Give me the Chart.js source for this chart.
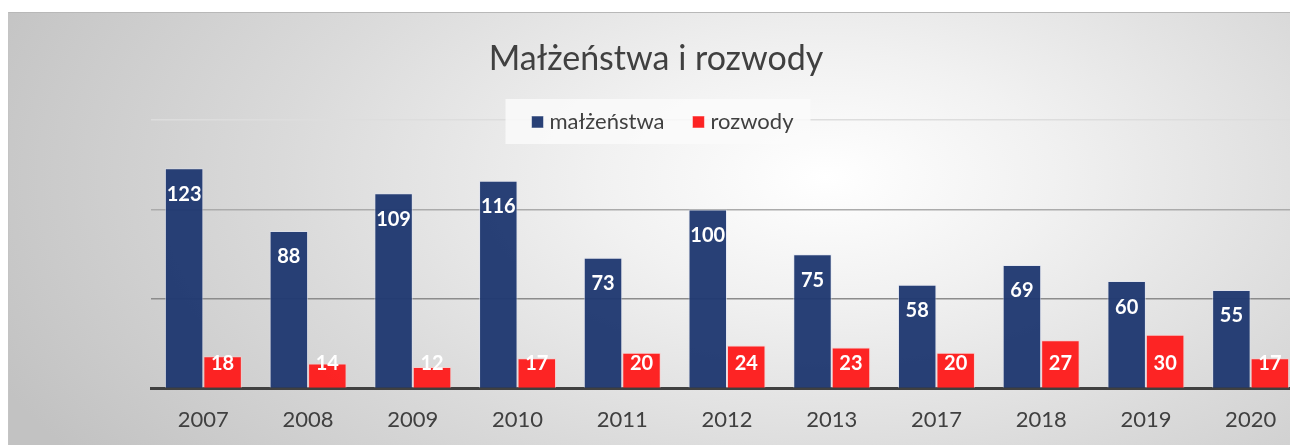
<!DOCTYPE html>
<html>
<head>
    <title>Małżeństwa i rozwody</title>
    <script src="https://cdn.jsdelivr.net/npm/chart.js"></script>
    <style>
        html, body { margin: 0; padding: 0; background: #fff; overflow: hidden; width: 1290px; height: 445px; }
        #panel {
            position: absolute; left: 8px; top: 12px; width: 1297px; height: 433px; overflow: hidden;
            background: radial-gradient(ellipse 70% 115% at 63% 38%, #ffffff 0%, #f1f1f1 25%, #dadada 60%, #c2c2c2 100%);
            border-top: 1px solid #b8b8b8; border-left: 1px solid #c4c4c4;
            box-sizing: border-box;
        }
        #marriageChart { position: absolute; left: 0; top: 0; }
    </style>
</head>
<body>
    <div id="panel">
        <canvas id="marriageChart" width="1297" height="438"></canvas>
    </div>
    <script>
        const years = ['2007', '2008', '2009', '2010', '2011', '2012', '2013', '2017', '2018', '2019', '2020'];
        const marriages = [123, 88, 109, 116, 73, 100, 75, 58, 69, 60, 55];
        const divorces = [18, 14, 12, 17, 20, 24, 23, 20, 27, 30, 17];
        const yTicks = [0, 50, 100, 150];

        const FONT = 'Lato, "Open Sans", sans-serif';
        const navy = 'rgba(31, 56, 112, 0.96)';
        const red = 'rgba(253, 32, 32, 0.98)';

        // white values inside the bars: top for marriages, bottom for divorces
        const barLabels = {
            id: 'barLabels',
            afterDatasetsDraw(chart) {
                const ctx = chart.ctx;
                ctx.save();
                ctx.fillStyle = '#ffffff';
                ctx.font = 'bold 20px ' + FONT;
                ctx.textAlign = 'center';
                ctx.textBaseline = 'middle';
                chart.data.datasets.forEach((ds, i) => {
                    chart.getDatasetMeta(i).data.forEach((bar, j) => {
                        const y = i === 0 ? bar.y + 26 : bar.base - 24;
                        ctx.fillText(ds.data[j], bar.x, y);
                    });
                });
                ctx.restore();
            }
        };

        // legend in a light box overlapping the top gridline
        const boxLegend = {
            id: 'boxLegend',
            afterDraw(chart) {
                const ctx = chart.ctx;
                const cx = chart.width / 2;
                ctx.save();
                ctx.fillStyle = 'rgba(250, 250, 250, 0.85)';
                ctx.fillRect(cx - 152, 86, 305, 45);
                ctx.font = '22px ' + FONT;
                ctx.textBaseline = 'middle';
                const sq = 12, gapIn = 6, gapOut = 28;
                const items = chart.data.datasets.map(ds => ({ text: ds.label, color: ds.backgroundColor }));
                let total = 0;
                items.forEach((it, k) => {
                    total += sq + gapIn + ctx.measureText(it.text).width + (k < items.length - 1 ? gapOut : 0);
                });
                let x = cx + 5 - total / 2;
                const y = 109;
                items.forEach(it => {
                    ctx.fillStyle = it.color;
                    ctx.fillRect(x, y - sq / 2, sq, sq);
                    ctx.strokeStyle = 'rgba(255,255,255,0.5)';
                    ctx.strokeRect(x, y - sq / 2, sq, sq);
                    x += sq + gapIn;
                    ctx.fillStyle = '#404040';
                    ctx.fillText(it.text, x, y);
                    x += ctx.measureText(it.text).width + gapOut;
                });
                ctx.restore();
            }
        };

        const gridColors = { 0: 'rgba(0,0,0,0)', 50: '#8c8c8c', 100: '#ababab', 150: '#dddddd' };

        const ctx = document.getElementById('marriageChart').getContext('2d');
        new Chart(ctx, {
            type: 'bar',
            data: {
                labels: years,
                datasets: [{
                    label: 'małżeństwa',
                    data: marriages,
                    backgroundColor: navy,
                    borderColor: 'rgba(220, 225, 240, 0.6)',
                    borderWidth: 1,
                    categoryPercentage: 0.735,
                    barPercentage: 1.0
                }, {
                    label: 'rozwody',
                    data: divorces,
                    backgroundColor: red,
                    borderColor: 'rgba(255, 200, 200, 0.7)',
                    borderWidth: 1,
                    categoryPercentage: 0.735,
                    barPercentage: 1.0
                }]
            },
            options: {
                responsive: false,
                animation: false,
                layout: {
                    padding: { left: 0, right: 3, top: 0, bottom: 0 }
                },
                scales: {
                    x: {
                        grid: { display: false, drawTicks: false },
                        border: { color: '#404040', width: 3 },
                        ticks: { color: '#404040', font: { family: FONT, size: 22 }, padding: 18 }
                    },
                    y: {
                        min: yTicks[0],
                        max: yTicks[yTicks.length - 1],
                        afterBuildTicks: axis => { axis.ticks = yTicks.map(v => ({ value: v })); },
                        afterFit: axis => { axis.width = 142; },
                        ticks: { display: false },
                        border: { display: false },
                        grid: {
                            drawTicks: false,
                            lineWidth: 1.5,
                            color: c => gridColors[c.tick.value] || '#aaaaaa'
                        }
                    }
                },
                plugins: {
                    legend: { display: false },
                    tooltip: { enabled: false },
                    title: {
                        display: true,
                        text: 'Małżeństwa i rozwody',
                        color: '#404040',
                        font: { family: FONT, size: 34, weight: 'normal' },
                        padding: { top: 26, bottom: 40 }
                    }
                }
            },
            plugins: [barLabels, boxLegend]
        });
    </script>
</body>
</html>
